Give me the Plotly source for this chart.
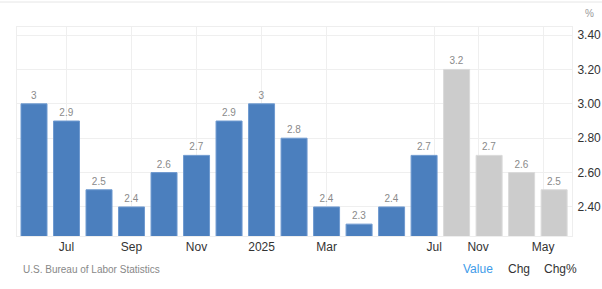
import plotly.graph_objects as go

# Data
periods = ["Jun 2024", "Jul 2024", "Aug 2024", "Sep 2024", "Oct 2024", "Nov 2024",
           "Dec 2024", "Jan 2025", "Feb 2025", "Mar 2025", "Apr 2025", "May 2025",
           "Jun 2025", "Q3 2025", "Q4 2025", "Q1 2026", "Q2 2026"]
actual_values = [3.0, 2.9, 2.5, 2.4, 2.6, 2.7, 2.9, 3.0, 2.8, 2.4, 2.3, 2.4, 2.7]
forecast_values = [3.2, 2.7, 2.6, 2.5]
tick_labels = ["Jul", "Sep", "Nov", "2025", "Mar", "Jul", "Nov", "May"]
tick_positions = [1, 3, 5, 7, 9, 12.31, 13.66, 15.66]
y_ticks = [2.4, 2.6, 2.8, 3.0, 3.2, 3.4]

n_act = len(actual_values)
x_act = list(range(n_act))
x_fc = list(range(n_act, n_act + len(forecast_values)))

def fmt(v):
    return f"{v:g}"

FONT = "Arial, Liberation Sans, sans-serif"

fig = go.Figure()
fig.add_trace(go.Bar(
    x=x_act, y=actual_values, width=0.8,
    marker=dict(color="#4b7fbe", line=dict(color="#6f9ad0", width=1)),
    text=[fmt(v) for v in actual_values], textposition="outside",
    textfont=dict(size=10, color="#8a8a8a", family=FONT),
    cliponaxis=False, hovertext=periods[:n_act], showlegend=False,
))
fig.add_trace(go.Bar(
    x=x_fc, y=forecast_values, width=0.8,
    marker=dict(color="#cccccc", line=dict(color="#dadada", width=1)),
    text=[fmt(v) for v in forecast_values], textposition="outside",
    textfont=dict(size=10, color="#8a8a8a", family=FONT),
    cliponaxis=False, hovertext=periods[n_act:], showlegend=False,
))

fig.update_layout(
    width=602, height=289,
    margin=dict(l=17, r=30, t=27, b=53),
    paper_bgcolor="white", plot_bgcolor="white",
    font=dict(family=FONT, color="#333333"),
    bargap=0.2,
    xaxis=dict(
        range=[-0.523, 16.55], tickmode="array", automargin=False,
        tickvals=tick_positions, ticktext=tick_labels,
        showgrid=True, gridcolor="#efefef", gridwidth=1,
        zeroline=False, showline=True, linecolor="#eeeeee", mirror=True,
        ticks="", tickfont=dict(size=12, color="#333333"),
    ),
    yaxis=dict(
        range=[2.231, 3.447], side="right", tickmode="array", automargin=False,
        tickvals=y_ticks, tickformat=".2f",
        showgrid=True, gridcolor="#efefef", gridwidth=1,
        zeroline=False, showline=True, linecolor="#eeeeee", mirror=True,
        ticks="", ticklabelstandoff=2,
        tickfont=dict(size=12, color="#333333"),
    ),
)

fig.add_annotation(text="%", xref="paper", yref="paper", x=1.019, y=1.0,
                   xanchor="left", yanchor="bottom", yshift=6, showarrow=False,
                   font=dict(size=10, color="#999999", family=FONT))
fig.add_annotation(text="U.S. Bureau of Labor Statistics", xref="paper", yref="paper",
                   x=0.007, y=0, yshift=-33, xanchor="left", yanchor="middle",
                   showarrow=False, font=dict(size=10, color="#888888", family=FONT))
for label, xp, col in [("Value", 478, "#3d9be9"), ("Chg", 519, "#333333"), ("Chg%", 560, "#333333")]:
    fig.add_annotation(text=label, xref="paper", yref="paper",
                       x=(xp - 17) / 555, y=0, yshift=-33, xanchor="center", yanchor="middle",
                       showarrow=False, font=dict(size=12, color=col, family=FONT))

fig.add_shape(type="line", xref="paper", yref="paper", x0=-0.05, x1=1.06,
              y0=1 + 25 / 209, y1=1 + 25 / 209, line=dict(color="#e6e6e6", width=1))

fig.write_html("out.html")
